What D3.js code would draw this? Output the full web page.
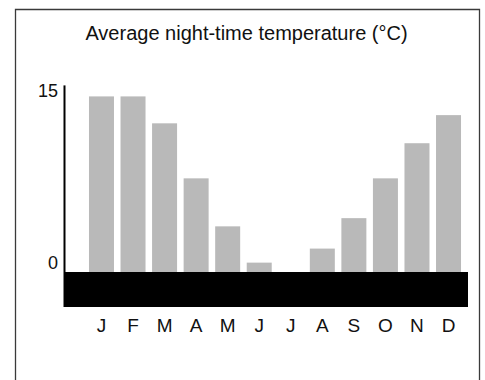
<!DOCTYPE html>
<html><head><meta charset="utf-8">
<script src="https://cdn.jsdelivr.net/npm/d3@7"></script>
<style>
html,body{margin:0;padding:0;background:#fff;}
svg{display:block;}
text{font-family:"Liberation Sans",Arial,sans-serif;fill:#111;}
</style></head>
<body>
<svg id="c" width="485" height="380"></svg>
<script>
const months = ["J","F","M","A","M","J","J","A","S","O","N","D"];
const temps = [15, 15, 12.7, 8, 3.9, 0.8, 0, 2, 4.6, 8, 11, 13.4];
const tickVals = [0, 15];
const title = "Average night-time temperature (°C)";

const svg = d3.select("#c");
const ids = months.map((m,i)=>i);

const x = d3.scaleBand().domain(ids).range([85.7, 464.3])
  .paddingInner(0.2076).paddingOuter(0.1038);
const y = d3.scaleLinear().domain([0, 15]).range([272, 96.4]);

// frame
svg.append("path").attr("d","M15.5,380 V9.5 H479.5 V380")
  .attr("fill","none").attr("stroke","#3a3a3a").attr("stroke-width",1.3);

// title
svg.append("text").attr("x",246.5).attr("y",40).attr("text-anchor","middle")
  .attr("font-size",20).text(title);

// bars
svg.append("g").selectAll("rect").data(temps).join("rect")
  .attr("x",(d,i)=>x(i)).attr("width",x.bandwidth())
  .attr("y",d=>y(d)).attr("height",d=>y(0)-y(d))
  .attr("fill","#b9b9b9");

// black band (x-axis base)
svg.append("rect").attr("x",64).attr("y",y(0)).attr("width",404).attr("height",35)
  .attr("fill","#000");

// y axis line
svg.append("line").attr("x1",64.5).attr("x2",64.5).attr("y1",y(15)-11).attr("y2",y(0)+35)
  .attr("stroke","#000").attr("stroke-width",2);

// y tick labels
const yAxis = d3.axisLeft(y).tickValues(tickVals).tickSize(0).tickPadding(0);
const ya = svg.append("g").attr("transform","translate(58,0)").call(yAxis);
ya.select(".domain").remove();
ya.selectAll("text").attr("font-size",18).attr("font-family","Liberation Sans, Arial, sans-serif")
  .attr("fill","#111").attr("dy",d=>d===0?"-0.2em":"0em");

// month labels
const xAxis = d3.axisBottom(x).tickFormat(i=>months[i]).tickSize(0).tickPadding(0);
const xa = svg.append("g").attr("transform","translate(0,318)").call(xAxis);
xa.select(".domain").remove();
xa.selectAll("text").attr("font-size",19).attr("font-family","Liberation Sans, Arial, sans-serif")
  .attr("fill","#111").attr("dy","0.72em");
</script>
</body></html>
